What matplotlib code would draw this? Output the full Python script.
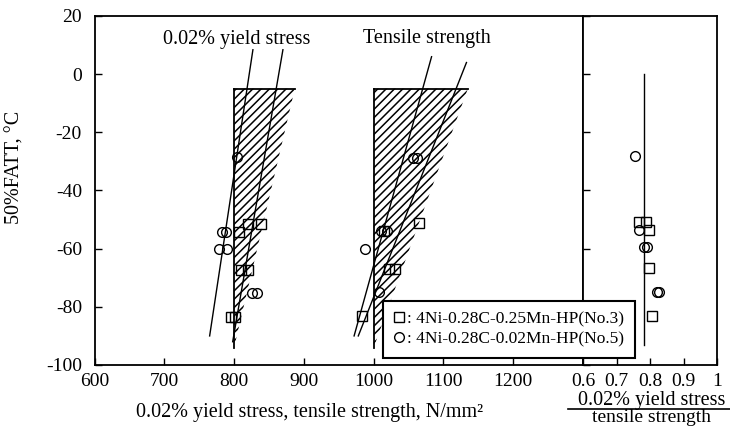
import matplotlib
matplotlib.use("Agg")
import matplotlib.pyplot as plt
from matplotlib.patches import Polygon
from matplotlib.lines import Line2D

plt.rcParams['font.family'] = ['Liberation Serif', 'DejaVu Serif']
plt.rcParams['hatch.linewidth'] = 1.1

# ---- data ---------------------------------------------------------------------
y_ticks = [-100, -80, -60, -40, -20, 0, 20]
x_ticks = [600, 700, 800, 900, 1000, 1100, 1200]
r_ticks = [0.6, 0.7, 0.8, 0.9, 1.0]
r_tick_labels = ['0.6', '0.7', '0.8', '0.9', '1']

# hatched scatter bands (top-left, top-right, bottom apex)
yield_band_x = [800, 887, 800]
yield_band_y = [-5, -5, -94]
tens_band_x = [1000, 1135, 1000]
tens_band_y = [-5, -5, -94]

# regression lines (two per property)
yield_line_a_x = [827, 765]
yield_line_a_y = [8.4, -90]
yield_line_b_x = [870, 798]
yield_line_b_y = [8.4, -92]
tens_line_c_x = [1083, 972]
tens_line_c_y = [6, -90]
tens_line_d_x = [1133, 978]
tens_line_d_y = [4, -90]

# No.3 (squares) and No.5 (circles)
yield_sq_x = [820, 839, 807, 810, 820, 796, 802]
yield_sq_y = [-51.5, -51.5, -54.3, -67.4, -67.4, -83.4, -83.4]
yield_ci_x = [804, 782, 789, 778, 790, 826, 833]
yield_ci_y = [-28.4, -54.3, -54.3, -60.2, -60.2, -75.2, -75.2]

tens_sq_x = [1065, 1015, 1022, 1031, 984]
tens_sq_y = [-51.2, -54, -67.1, -67.1, -83.1]
tens_ci_x = [1057, 1062, 1010, 1019, 988, 1007]
tens_ci_y = [-28.7, -28.7, -54, -54, -60, -74.8]

ratio_sq_x = [0.766, 0.789, 0.798, 0.797, 0.807]
ratio_sq_y = [-50.7, -50.7, -53.7, -66.8, -83]
ratio_ci_x = [0.756, 0.766, 0.782, 0.79, 0.82, 0.826]
ratio_ci_y = [-28.1, -53.7, -59.4, -59.4, -74.8, -74.8]

ratio_line_x = [0.782, 0.782]
ratio_line_y = [0, -93]

legend_labels = [': 4Ni-0.28C-0.25Mn-HP(No.3)', ': 4Ni-0.28C-0.02Mn-HP(No.5)']

# ---- layout -------------------------------------------------------------------
W, H = 730, 428
fig = plt.figure(figsize=(W / 100, H / 100), dpi=100)
x_left, x_div, x_right = 94.5, 583, 717
y_top, y_bot = 16, 365
ax = fig.add_axes([x_left / W, 1 - y_bot / H, (x_div - x_left) / W, (y_bot - y_top) / H])
axr = fig.add_axes([x_div / W, 1 - y_bot / H, (x_right - x_div) / W, (y_bot - y_top) / H])

mk = dict(linestyle='none', mfc='none', mec='black', mew=1.0, markersize=7)

# left panel
for bx, by in [(yield_band_x, yield_band_y), (tens_band_x, tens_band_y)]:
    ax.add_patch(Polygon(list(zip(bx, by)), closed=True, fill=False,
                         hatch='////', edgecolor='black', linewidth=0))
    ax.plot(bx[:2], by[:2], color='black', lw=1.3)
    ax.plot([bx[0], bx[2]], [by[0], by[2]], color='black', lw=1.3)

for lx, ly in [(yield_line_a_x, yield_line_a_y), (yield_line_b_x, yield_line_b_y),
               (tens_line_c_x, tens_line_c_y), (tens_line_d_x, tens_line_d_y)]:
    ax.plot(lx, ly, color='black', lw=1.0)

ax.plot(yield_sq_x, yield_sq_y, marker='s', **mk)
ax.plot(yield_ci_x, yield_ci_y, marker='o', **mk)
ax.plot(tens_sq_x, tens_sq_y, marker='s', **mk)
ax.plot(tens_ci_x, tens_ci_y, marker='o', **mk)

ax.text(803.7, 10.3, '0.02% yield stress', ha='center', va='baseline', fontsize=14.5)
ax.text(1076.8, 10.6, 'Tensile strength', ha='center', va='baseline', fontsize=14.5)

ax.set_xlim(600, 1300)
ax.set_ylim(-100, 20)
ax.set_xticks(x_ticks)
ax.set_yticks(y_ticks)
ax.set_yticklabels([str(v) for v in y_ticks])
ax.tick_params(direction='in', length=5, width=1, labelsize=14, top=False, right=False)
ax.tick_params(axis='x', pad=6)
ax.tick_params(axis='y', pad=9)

# right panel
axr.plot(ratio_line_x, ratio_line_y, color='black', lw=1.0)
axr.plot(ratio_sq_x, ratio_sq_y, marker='s', **mk)
axr.plot(ratio_ci_x, ratio_ci_y, marker='o', **mk)
axr.set_xlim(0.6, 1.0)
axr.set_ylim(-100, 20)
axr.set_xticks(r_ticks)
axr.set_xticklabels(r_tick_labels)
axr.set_yticks(y_ticks)
axr.set_yticklabels([])
axr.tick_params(direction='in', length=5, width=1, labelsize=14, pad=6)

for a in (ax, axr):
    for s in a.spines.values():
        s.set_linewidth(1.3)

# axis titles
fig.text(15 / W, 1 - 167 / H, '50%FATT, \u00b0C', rotation=90, ha='center', va='center', fontsize=14.5)
fig.text(310 / W, 1 - 417 / H, '0.02% yield stress, tensile strength, N/mm\u00b2',
         ha='center', va='baseline', fontsize=14.5)
fig.text(651.5 / W, 1 - 405 / H, '0.02% yield stress', ha='center', va='baseline', fontsize=14.5)
fig.add_artist(Line2D([568 / W, 730 / W], [1 - 409 / H, 1 - 409 / H], color='black', lw=1.2,
                      transform=fig.transFigure))
fig.text(651 / W, 1 - 422.5 / H, 'tensile strength', ha='center', va='baseline', fontsize=14)

# legend
handles = [Line2D([], [], marker='s', **mk), Line2D([], [], marker='o', **mk)]
leg = fig.legend(handles, legend_labels, loc='upper left', bbox_to_anchor=(383 / W, 1 - 301 / H),
                 borderaxespad=0, frameon=True, fancybox=False, edgecolor='black', framealpha=1,
                 fontsize=12.5, handlelength=0.7, handletextpad=0.1, labelspacing=0.2,
                 borderpad=0.6)
leg.get_frame().set_linewidth(1.5)
leg.set_zorder(10)

fig.savefig('out.png', dpi=100)
